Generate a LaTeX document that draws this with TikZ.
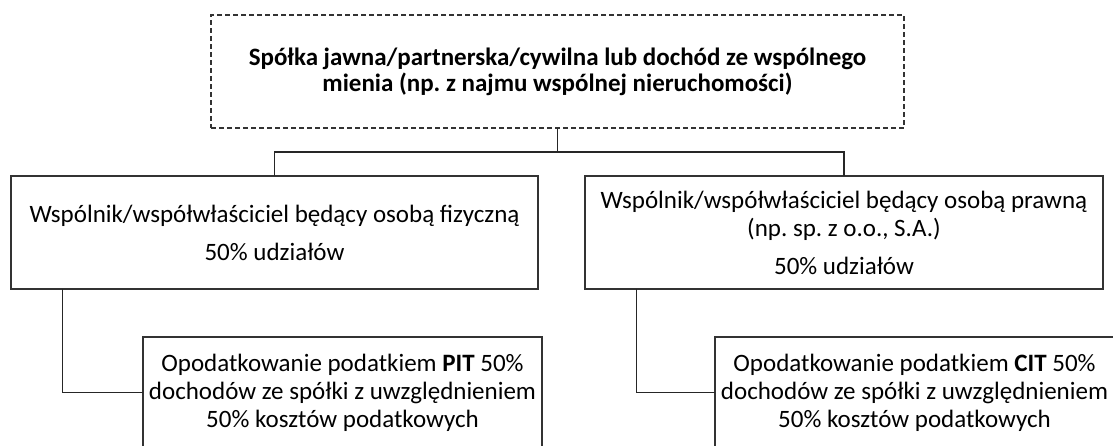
\documentclass[tikz,border=0pt]{standalone}
\usepackage{fontspec}
\setmainfont{Carlito}
\usepackage{tikz}
\usetikzlibrary{positioning}
\frenchspacing

\begin{document}
\begin{tikzpicture}[line cap=rect,line join=miter,x=1pt,y=-1pt,
  box/.style={draw=black!80,line width=1.3pt,rectangle,align=center,inner sep=0pt,
    font=\fontsize{25}{28}\selectfont},
  dashbox/.style={box,dash pattern=on 5pt off 3pt,line cap=butt,font=\fontsize{25}{26}\selectfont\bfseries},
  wire/.style={draw=black!85,line width=1.3pt}]
\useasboundingbox (0,0) rectangle (1113,445);
\clip (0,0) rectangle (1113,445);
\node[dashbox,minimum width=693pt,minimum height=113pt] (spolka) at (557.5,71.5)
  {Spółka jawna/partnerska/cywilna lub dochód ze wspólnego\\mienia (np. z najmu wspólnej nieruchomości)};
\node[box,minimum width=527pt,minimum height=113pt] (fiz) at (274.5,232.5)
  {Wspólnik/współwłaściciel będący osobą fizyczną\\[10pt]50\% udziałów};
\node[box,minimum width=518pt,minimum height=113pt] (praw) at (844,232.5)
  {Wspólnik/współwłaściciel będący osobą prawną\\(np. sp. z o.o., S.A.)\\[10pt]50\% udziałów};
\node[box,minimum width=399pt,minimum height=111pt] (pit) at (342.5,392.5)
  {Opodatkowanie podatkiem \textbf{PIT} 50\%\\dochodów ze spółki z uwzględnieniem\\50\% kosztów podatkowych};
\node[box,minimum width=399pt,minimum height=111pt] (cit) at (914.5,392.5)
  {Opodatkowanie podatkiem \textbf{CIT} 50\%\\dochodów ze spółki z uwzględnieniem\\50\% kosztów podatkowych};
\coordinate (fork) at (557.5,152);
\draw[wire] (spolka.south) -- (fork);
\draw[wire] (fiz.north) |- (fork) -| (praw.north);
\draw[wire] ([xshift=52pt]fiz.south west) |- (pit.west);
\draw[wire] ([xshift=52pt]praw.south west) |- (cit.west);
\end{tikzpicture}
\end{document}
